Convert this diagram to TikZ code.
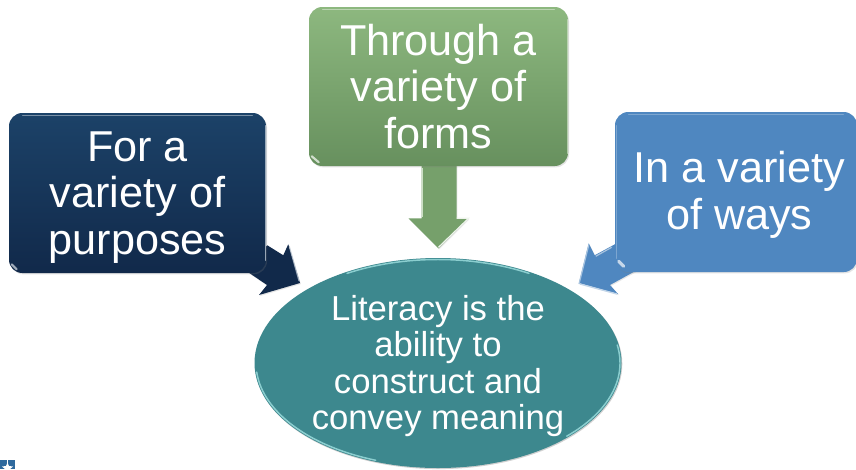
\documentclass[tikz,border=0pt]{standalone}
\usepackage{fontspec}
\setmainfont{Liberation Sans}
\usetikzlibrary{shapes.geometric,shadows,calc}
\tikzset{
  x=0.75pt,y=-0.75pt,
  boxbase/.style={rectangle,rounded corners=10pt,inner sep=0pt,align=center,text=white,
    font=\fontsize{32.4}{35}\selectfont,drop shadow={opacity=.22,shadow xshift=.8pt,shadow yshift=-1pt}},
  navybox/.style={boxbase,top color=navyT,bottom color=navyB,minimum width=192.75pt,minimum height=120pt},
  greenbox/.style={boxbase,top color=greenT,bottom color=greenB,minimum width=194.25pt,minimum height=119.25pt},
  bluebox/.style={boxbase,fill=blueF,minimum width=181.5pt,minimum height=120pt},
  litnode/.style={ellipse,inner sep=0pt,fill=tealF,align=center,text=white,minimum width=275.25pt,minimum height=157.5pt,
    font=\fontsize{26}{27.3}\selectfont,drop shadow={opacity=.2,shadow xshift=.6pt,shadow yshift=-.8pt}},
  gloss/.style={line width=1.1pt,line cap=round,opacity=.75},
}
\definecolor{navyT}{HTML}{1C4268}
\definecolor{navyB}{HTML}{11294A}
\definecolor{greenT}{HTML}{8DB87F}
\definecolor{greenB}{HTML}{67905E}
\definecolor{greenA}{HTML}{76A06B}
\definecolor{blueF}{HTML}{4F87C0}
\definecolor{tealF}{HTML}{3D888E}
\definecolor{tealL}{HTML}{A6E6E6}
\definecolor{logoB}{HTML}{2F6A9E}
\begin{document}
\begin{tikzpicture}
\useasboundingbox (0,0) rectangle (856,469);
\path[fill=white] (0,0) rectangle (856,469);

% logo fragment
\fill[logoB] (0,460) rectangle (15,469);
\fill[white] (7.5,462.5) -- (9,466) -- (13,466.5) -- (10,469) -- (5,469) -- (2,466.5) -- (6,466) -- cycle;
\fill[white] (7,460) rectangle (8,463);

% invisible placement of the nodes for the arrows
\path node[litnode,draw=none,fill=none,drop shadow={opacity=0}] (lit) at (438,363) {};
\path node[rectangle,minimum width=192.75pt,minimum height=120pt,inner sep=0pt] (purp) at (137.5,193) {};
\path node[rectangle,minimum width=194.25pt,minimum height=119.25pt,inner sep=0pt] (form) at (438.5,86.5) {};
\path node[rectangle,minimum width=181.5pt,minimum height=120pt,inner sep=0pt] (ways) at (736,192) {};

% connectors as block arrows, from box to ellipse
\fill[navyB,drop shadow={opacity=.2,shadow xshift=.6pt,shadow yshift=-.8pt}]
  ([shift={(-21,-3)}]purp.south east) -- ([shift={(1,-28)}]purp.south east)
  -- ([shift={(17,-18)}]purp.south east) -- ([shift={(22,-29)}]purp.south east)
  -- ([shift={(-138,-80)}]lit.center) -- ([shift={(-179,-68)}]lit.center)
  -- ([shift={(-171,-78)}]lit.center) -- cycle;
\fill[greenA,drop shadow={opacity=.2,shadow xshift=.6pt,shadow yshift=-.8pt}]
  ([shift={(-17,-2)}]form.south) -- ([shift={(-17,52)}]form.south)
  -- ([shift={(-30,52)}]form.south) -- ([shift={(0,82)}]form.south)
  -- ([shift={(30,52)}]form.south) -- ([shift={(18,52)}]form.south)
  -- ([shift={(18,-2)}]form.south) -- cycle;
\fill[blueF,drop shadow={opacity=.2,shadow xshift=.6pt,shadow yshift=-.8pt}]
  ([shift={(2,-29)}]ways.south west) -- ([shift={(-20,-17)}]ways.south west)
  -- ([shift={(-26,-29)}]ways.south west) -- ([shift={(141,-80)}]lit.center)
  -- ([shift={(180,-69)}]lit.center) -- ([shift={(172,-78)}]lit.center)
  -- ([shift={(22,-2)}]ways.south west) -- cycle;

% arrow bevels
\draw[white!70!navyT,line width=.8pt,opacity=.8] ([shift={(23,-27)}]purp.south east) -- ([shift={(-139,-82)}]lit.center);
\draw[white!85!greenT,line width=.9pt] ([shift={(18,52)}]form.south) -- ([shift={(30,52)}]form.south) -- ([shift={(0,81)}]form.south);
\draw[white!55!greenT,line width=.9pt] ([shift={(-16,2)}]form.south) -- ([shift={(-16,51)}]form.south);
\draw[white!65!blueF,line width=1pt] ([shift={(142,-79)}]lit.center) -- ([shift={(179,-69)}]lit.center);
\draw[white!50!blueF,line width=.9pt] ([shift={(-26,-27)}]ways.south west) -- ([shift={(141,-79)}]lit.center);
\draw[white!50!blueF,line width=.9pt] ([shift={(-19,-16)}]ways.south west) -- ([shift={(-3,-25)}]ways.south west);

% nodes
\node[litnode] (lit) at (438,363) {\rule{0pt}{23.6pt}Literacy is the\\ability to\\construct and\\convey meaning};
\node[navybox] (purp) at (137.5,193) {\rule{0pt}{29pt}For a\\variety of\\purposes};
\node[greenbox] (form) at (438.5,86.5) {Through a\\variety of\\forms};
\node[bluebox] (ways) at (736,192) {\hspace*{5pt}\rule{0pt}{28pt}In a variety\\\hspace*{5pt}of ways};

% bevel highlights
\draw[gloss,white!55!navyT] ([shift={(14,2.5)}]purp.north west) -- ([shift={(-14,2.5)}]purp.north east);
\draw[gloss,white!75!navyT] ([shift={(-.8,13)}]purp.north east) -- ([shift={(-.8,-13)}]purp.south east);
\draw[gloss,white!80!navyT,line width=1.6pt] ([shift={(3,-9)}]purp.south west) -- ([shift={(8,-4)}]purp.south west);
\draw[gloss,white!55!greenT] ([shift={(14,2.5)}]form.north west) -- ([shift={(-14,2.5)}]form.north east);
\draw[gloss,white!55!greenT] ([shift={(-.8,13)}]form.north east) -- ([shift={(-.8,-13)}]form.south east);
\draw[gloss,white!90!greenT,line width=1.6pt] ([shift={(3,-10)}]form.south west) -- ([shift={(10,-4)}]form.south west);
\draw[gloss,white!35!blueF] ([shift={(14,2.5)}]ways.north west) -- ([shift={(-14,2.5)}]ways.north east);
\draw[gloss,white!35!blueF] ([shift={(1.5,14)}]ways.north west) -- ([shift={(1.5,-14)}]ways.south west);
\draw[gloss,white!90!blueF,line width=2.4pt] ([shift={(4,-11)}]ways.south west) -- ([shift={(9,-6)}]ways.south west);
\draw[gloss,tealL] ([shift={({182*cos(240)},{103.5*sin(240)})}]lit.center) arc[start angle=240,end angle=300,x radius=182,y radius=103.5];
\draw[gloss,tealL] ([shift={({182*cos(175)},{103.5*sin(175)})}]lit.center) arc[start angle=175,end angle=110,x radius=182,y radius=103.5];
\draw[gloss,tealL] ([shift={({182*cos(-10)},{103.5*sin(-10)})}]lit.center) arc[start angle=-10,end angle=45,x radius=182,y radius=103.5];
\end{tikzpicture}
\end{document}
